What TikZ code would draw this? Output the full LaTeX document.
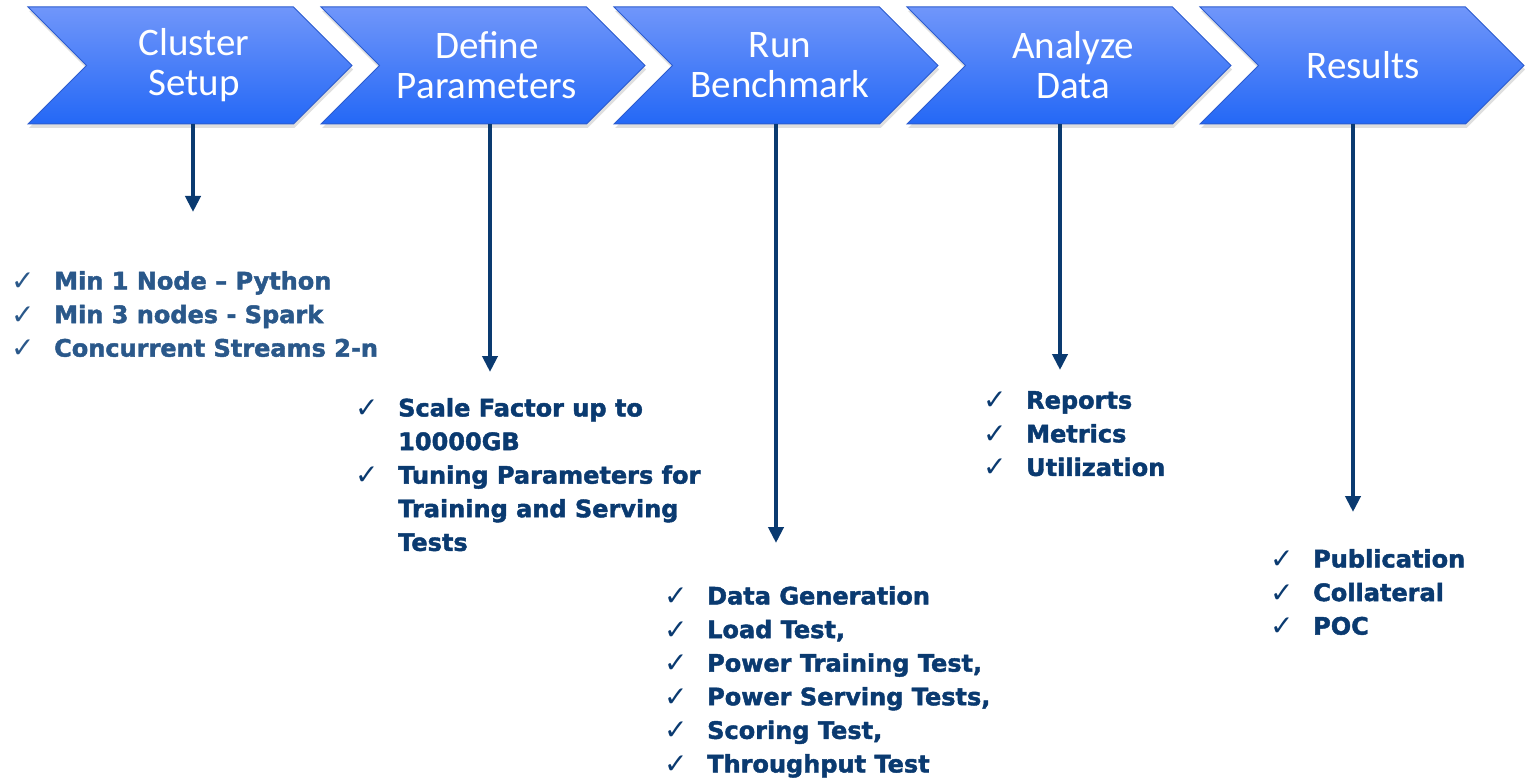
\documentclass[tikz,border=0pt]{standalone}
\usepackage{fontspec}
\setmainfont{DejaVu Sans}[BoldFeatures={FakeBold=1.8}]
\newfontfamily\chevfont{Carlito}
\usetikzlibrary{shapes.symbols,arrows.meta,shadows}
\definecolor{navy}{RGB}{10,58,112}
\definecolor{steel}{RGB}{42,88,138}
\definecolor{chevtop}{RGB}{112,150,250}
\definecolor{chevbot}{RGB}{36,104,246}
\definecolor{chevedge}{RGB}{44,92,206}
\newcommand{\ck}{\makebox[43pt][l]{\mdseries\fontsize{28}{28}\selectfont\raisebox{-1pt}{✓}}}
\newcommand{\ckgap}{\hspace*{43pt}}
\begin{document}
\begin{tikzpicture}[x=1pt, y=-1pt,
    stage/.style = {shape=signal, signal to=east, signal from=west, signal pointer angle=90,
                    minimum width=324pt, minimum height=117pt, inner sep=0pt,
                    top color=chevtop, bottom color=chevbot, draw=chevedge, line width=1pt,
                    drop shadow={opacity=0.25, shadow xshift=1pt, shadow yshift=-4pt},
                    text=white, align=center, font=\chevfont\fontsize{39}{40}\selectfont},
    checks/.style = {anchor=north west, inner sep=0pt, align=left, text=navy,
                     font=\bfseries\fontsize{24}{33.6}\selectfont},
    link/.style = {draw=navy, line width=4.5pt, -{Triangle[width=15pt,length=16pt]}}]
  \useasboundingbox (0,0) rectangle (1527,778);
  \node[stage] (s1) at (190,65.5) {\hspace*{8pt}Cluster\\\hspace*{8pt}Setup};
  \node[stage] (s2) at (483,65.5) {\hspace*{8pt}Define\\\hspace*{8pt}Parameters};
  \node[stage] (s3) at (776,65.5) {\hspace*{8pt}Run\\\hspace*{8pt}Benchmark};
  \node[stage] (s4) at (1069,65.5) {\hspace*{8pt}Analyze\\\hspace*{8pt}Data};
  \node[stage] (s5) at (1362,65.5) {\hspace*{2pt}Results};

  \coordinate (t1) at (193,212);
  \coordinate (t2) at (490,372);
  \coordinate (t3) at (776,543);
  \coordinate (t4) at (1060,370);
  \coordinate (t5) at (1353,512);
  \foreach \i in {1,...,5}
    \draw[link] (s\i.south -| t\i) -- (t\i);

  \node[checks, text=steel] (l1) at (11,271)
    {\ck Min 1 Node – Python\\ \ck Min 3 nodes - Spark\\ \ck Concurrent Streams 2-n};
  \node[checks] (l2) at (355,398)
    {\ck Scale Factor up to\\ \ckgap 10000GB\\ \ck Tuning Parameters for\\
     \ckgap Training and Serving\\ \ckgap Tests};
  \node[checks] (l3) at (664,586)
    {\ck Data Generation\\ \ck Load Test,\\ \ck Power Training Test,\\
     \ck Power Serving Tests,\\ \ck Scoring Test,\\ \ck Throughput Test};
  \node[checks] (l4) at (983,391)
    {\ck Reports\\ \ck Metrics\\ \ck Utilization};
  \node[checks] (l5) at (1270,549)
    {\ck Publication\\ \ck Collateral\\ \ck POC};
\end{tikzpicture}
\end{document}
